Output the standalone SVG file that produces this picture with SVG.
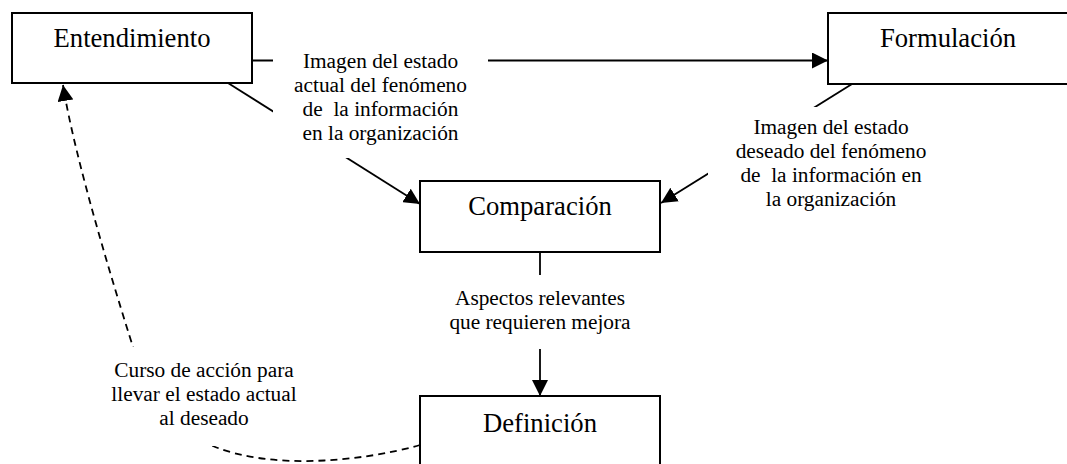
<svg xmlns="http://www.w3.org/2000/svg" width="1067" height="464" viewBox="0 0 1067 464">
<style>
.box{fill:#fff;stroke:#000;stroke-width:2}
.title{font-family:"Liberation Serif","Times New Roman",serif;font-size:26.67px;fill:#000;text-anchor:middle}
.lbl{font-family:"Liberation Serif","Times New Roman",serif;font-size:21.33px;fill:#000;text-anchor:middle}
.bg{fill:#fff;stroke:none}
.ln{fill:none;stroke:#000;stroke-width:1.8}
.dash{fill:none;stroke:#000;stroke-width:1.8;stroke-dasharray:7 5}
</style>
<defs>
<marker id="arr" markerUnits="userSpaceOnUse" markerWidth="16" markerHeight="16" refX="16" refY="8" orient="auto">
<path d="M0,0 L16,8 L0,16 z" fill="#000"/>
</marker>
</defs>
<g id="connectors">
<line class="ln" x1="252" y1="60.5" x2="828" y2="60.5" marker-end="url(#arr)"/>
<line class="ln" x1="228" y1="83" x2="420" y2="204" marker-end="url(#arr)"/>
<line class="ln" x1="852" y1="84" x2="661" y2="203" marker-end="url(#arr)"/>
<line class="ln" x1="540" y1="252" x2="540" y2="396" marker-end="url(#arr)"/>
<path class="dash" d="M420,445 C360,462 270,470 213,446 C156,422 143,380 133,347 C115,290 75,160 63,85" marker-end="url(#arr)"/>
</g>
<g id="label-actual">
<rect class="bg" x="273" y="40" width="215" height="118"/>
<text class="lbl" xml:space="preserve"><tspan x="380.5" y="68">Imagen del estado</tspan><tspan x="380.5" y="92">actual del fenómeno</tspan><tspan x="380.5" y="116">de  la información</tspan><tspan x="380.5" y="140">en la organización</tspan></text>
</g>
<g id="label-deseado">
<rect class="bg" x="708" y="107" width="246" height="110"/>
<text class="lbl" xml:space="preserve"><tspan x="831" y="134">Imagen del estado</tspan><tspan x="831" y="158">deseado del fenómeno</tspan><tspan x="831" y="182">de  la información en</tspan><tspan x="831" y="206">la organización</tspan></text>
</g>
<g id="label-aspectos">
<rect class="bg" x="445" y="275" width="190" height="74"/>
<text class="lbl"><tspan x="540" y="305">Aspectos relevantes</tspan><tspan x="540" y="329">que requieren mejora</tspan></text>
</g>
<g id="label-curso">
<rect class="bg" x="105" y="347" width="198" height="99"/>
<text class="lbl"><tspan x="204" y="377">Curso de acción para</tspan><tspan x="204" y="401">llevar el estado actual</tspan><tspan x="204" y="425">al deseado</tspan></text>
</g>
<g id="node-entendimiento">
<rect class="box" x="12" y="13" width="240" height="70"/>
<text class="title" x="132" y="47">Entendimiento</text>
</g>
<g id="node-formulacion">
<rect class="box" x="828" y="13" width="240" height="71"/>
<text class="title" x="948" y="47">Formulación</text>
</g>
<g id="node-comparacion">
<rect class="box" x="420" y="181" width="240" height="71"/>
<text class="title" x="540" y="215">Comparación</text>
</g>
<g id="node-definicion">
<rect class="box" x="420" y="396" width="240" height="71"/>
<text class="title" x="540" y="432">Definición</text>
</g>
</svg>
